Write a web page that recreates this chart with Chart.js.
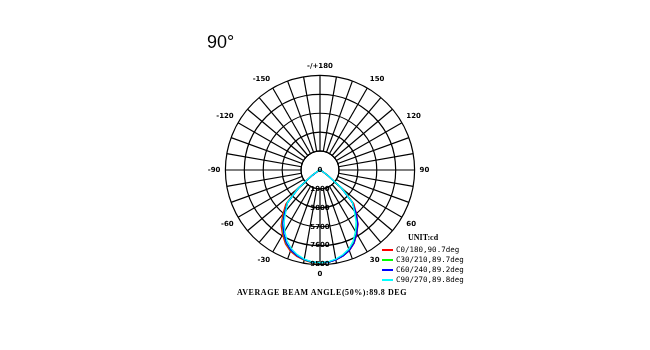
<!DOCTYPE html>
<html>
<head>
<meta charset="utf-8">
<script src="https://cdn.jsdelivr.net/npm/chart.js@4"></script>
<style>
  body { margin: 0; background: #fff; }
  #wrap { position: relative; width: 650px; height: 350px; }
  #title { position: absolute; left: 207px; top: 32px; font: 18px "Liberation Sans", Arial, sans-serif; color: #000; }
  #caption { position: absolute; left: 237px; top: 288px; font: bold 8px "Liberation Serif", serif; letter-spacing: 0.55px; color: #000; white-space: nowrap; }
  #legend { position: absolute; left: 382px; top: 233px; font: 7.5px "DejaVu Sans Mono", monospace; color: #000; }
  #legend .unit { font: bold 8px "Liberation Serif", serif; margin-left: 26px; height: 12px; }
  #legend .row { position: relative; height: 10px; line-height: 10px; white-space: nowrap; padding-left: 14px; }
  #legend .swatch { position: absolute; left: 0; top: 4px; width: 11px; height: 2px; }
</style>
</head>
<body>
<div id="wrap">
  <canvas id="chart" width="650" height="350"></canvas>
  <div id="title">90°</div>
  <div id="legend"></div>
  <div id="caption">AVERAGE BEAM ANGLE(50%):89.8 DEG</div>
</div>
<script>
// gamma angles of the half planes, 0 = straight down
const gammaDeg = [0, 5, 10, 15, 20, 25, 30, 35, 40, 45, 50, 55, 60, 65, 70, 75, 80, 85, 90];

// intensity in cd
const c0   = [9350, 9310, 9170, 8940, 8620, 8110, 7400, 6650, 5680, 4800, 2950, 1000, 280, 70, 15, 0, 0, 0, 0];
const c180 = [9350, 9330, 9200, 8990, 8680, 8200, 7520, 6800, 5820, 4850, 3000, 1050, 300, 70, 15, 0, 0, 0, 0];
const c30  = [9340, 9300, 9150, 8900, 8560, 8030, 7300, 6520, 5540, 4620, 2800, 950, 260, 60, 10, 0, 0, 0, 0];
const c210 = [9340, 9300, 9160, 8920, 8590, 8080, 7370, 6620, 5620, 4650, 2850, 980, 270, 60, 10, 0, 0, 0, 0];
const c60  = [9330, 9300, 9160, 8930, 8600, 8090, 7380, 6620, 5640, 4560, 2750, 920, 250, 55, 10, 0, 0, 0, 0];
const c240 = [9330, 9290, 9150, 8900, 8560, 8030, 7300, 6520, 5520, 4580, 2780, 940, 250, 55, 10, 0, 0, 0, 0];
const c90  = [9300, 9250, 9090, 8820, 8440, 7880, 7120, 6320, 5350, 4600, 2820, 960, 260, 60, 10, 0, 0, 0, 0];
const c270 = [9300, 9250, 9080, 8800, 8410, 7840, 7080, 6270, 5300, 4620, 2850, 980, 270, 60, 10, 0, 0, 0, 0];

const ringValues = [0, 1900, 3800, 5700, 7600, 9500];
const angleLabels = ['0', '-30', '-60', '-90', '-120', '-150', '-/+180', '150', '120', '90', '60', '30'];
const seriesNames = ['C0/180,90.7deg', 'C30/210,89.7deg', 'C60/240,89.2deg', 'C90/270,89.8deg'];
const seriesColors = ['#ff0000', '#00ff00', '#0000ff', '#00ffff'];

const STEP = 5;
const SPOKES = 360 / STEP;

// one full turn, index 0 at the bottom, going round via the left side
function fullTurn(right, left) {
  const out = new Array(SPOKES).fill(0);
  left.forEach((v, k) => { out[k] = v; });
  right.forEach((v, k) => { if (k > 0) out[SPOKES - k] = v; });
  return out;
}

const planes = [[c0, c180], [c30, c210], [c60, c240], [c90, c270]];
const spokeLabels = Array.from({length: SPOKES}, (_, i) => i % 6 === 0 ? angleLabels[i / 6] : '');

const datasets = planes.map((p, i) => ({
  label: seriesNames[i],
  data: fullTurn(p[0], p[1]),
  borderColor: seriesColors[i],
  backgroundColor: seriesColors[i],
  borderWidth: 1.3,
  pointRadius: 0,
  fill: false,
  tension: 0,
  order: planes.length - i
}));

// no spokes inside the first ring
const innerMask = {
  id: 'innerMask',
  beforeDatasetsDraw(chart) {
    const s = chart.scales.r;
    const r = s.getDistanceFromCenterForValue(ringValues[1]);
    const c = chart.ctx;
    c.save();
    c.fillStyle = '#fff';
    c.beginPath();
    c.arc(s.xCenter, s.yCenter, r - 0.5, 0, Math.PI * 2);
    c.fill();
    c.strokeStyle = '#000';
    c.lineWidth = 1.2;
    c.beginPath();
    c.arc(s.xCenter, s.yCenter, r, 0, Math.PI * 2);
    c.stroke();
    c.restore();
  }
};

// ring values written down the 0 axis
const ringText = {
  id: 'ringText',
  afterDatasetsDraw(chart) {
    const s = chart.scales.r;
    const c = chart.ctx;
    c.save();
    c.font = 'bold 7px "DejaVu Sans"';
    c.fillStyle = '#000';
    c.textAlign = 'center';
    c.textBaseline = 'middle';
    ringValues.forEach(v => {
      c.fillText(String(v), s.xCenter, s.yCenter + s.getDistanceFromCenterForValue(v));
    });
    c.restore();
  }
};

new Chart(document.getElementById('chart'), {
  type: 'radar',
  data: { labels: spokeLabels, datasets },
  options: {
    responsive: false,
    animation: false,
    layout: { padding: { left: 190, right: 200, top: 62, bottom: 71 } },
    plugins: { legend: { display: false }, tooltip: { enabled: false } },
    scales: {
      r: {
        min: 0,
        max: 9500,
        startAngle: 180,
        ticks: { display: false, stepSize: 1900 },
        grid: { circular: true, color: '#000', lineWidth: 1.2 },
        angleLines: {
          color: ctx => ctx.index % 2 === 0 ? '#000' : 'rgba(0,0,0,0)',
          lineWidth: 1.2
        },
        pointLabels: {
          font: { family: 'DejaVu Sans', size: 7, weight: 'bold' },
          color: '#000',
          padding: 5
        }
      }
    }
  },
  plugins: [innerMask, ringText]
});

// legend box
const leg = document.getElementById('legend');
leg.innerHTML = '<div class="unit">UNIT:cd</div>' + seriesNames.map((n, i) =>
  '<div class="row"><span class="swatch" style="background-color:' + seriesColors[i] + '"></span>' + n + '</div>'
).join('');
</script>
</body>
</html>
